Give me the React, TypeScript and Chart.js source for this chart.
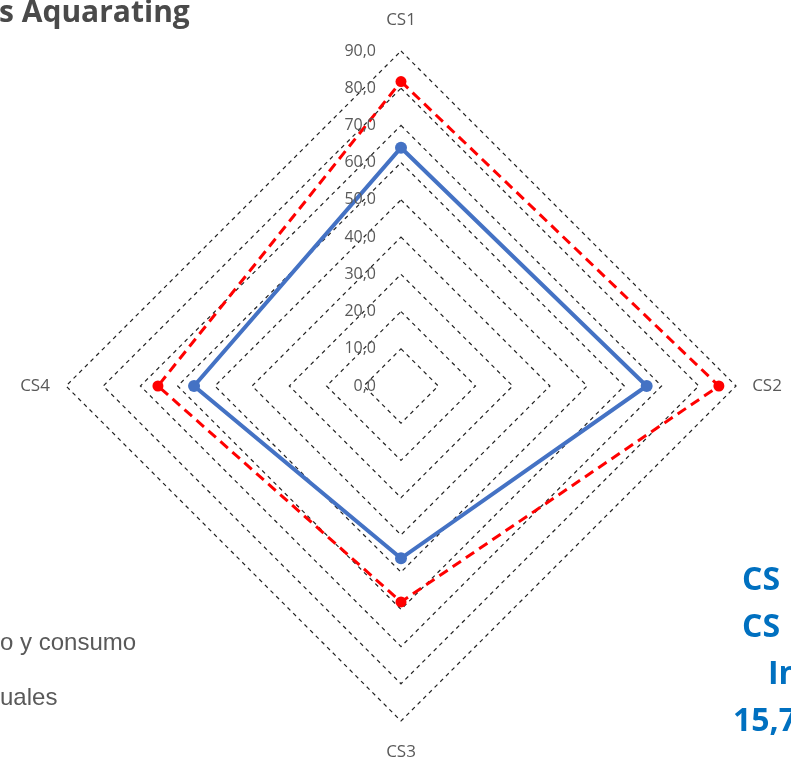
import React, { useEffect, useRef } from "react";
import { Chart, registerables } from "chart.js";

Chart.register(...registerables);

const categories = ["CS1", "CS2", "CS3", "CS4"];
const seriesBlue = [64, 66, 46.3, 55.6];
const seriesRed = [81.8, 85.4, 58, 65.3];
const tickValues = [0, 10, 20, 30, 40, 50, 60, 70, 80, 90];
const tickLabels = ["0,0", "10,0", "20,0", "30,0", "40,0", "50,0", "60,0", "70,0", "80,0", "90,0"];
const legendFragments = ["o y consumo", "uales"];
const sideFragments = ["CS", "CS", "In", "15,7"];

const labelPlugin = {
  id: "customLabels",
  afterDatasetsDraw(chart: any) {
    const scale = chart.scales.r;
    const ctx = chart.ctx;
    ctx.save();
    // tick labels, right-aligned left of the vertical axis
    ctx.font = "16px 'Open Sans', sans-serif";
    ctx.fillStyle = "#595959";
    ctx.textAlign = "right";
    ctx.textBaseline = "middle";
    tickValues.forEach((v, i) => {
      const d = scale.getDistanceFromCenterForValue(v);
      ctx.fillText(tickLabels[i], scale.xCenter - 25, scale.yCenter - d);
    });
    // point labels
    ctx.font = "17px 'Open Sans', sans-serif";
    ctx.textAlign = "center";
    categories.forEach((c, i) => {
      const p = scale.getPointPosition(i, scale.getDistanceFromCenterForValue(90) + 31);
      ctx.fillText(c, p.x, p.y);
    });
    ctx.restore();
  },
};

export default function App() {
  const ref = useRef<HTMLCanvasElement | null>(null);
  useEffect(() => {
    if (!ref.current) return;
    const chart = new Chart(ref.current, {
      type: "radar",
      data: {
        labels: categories,
        datasets: [
          {
            label: "Serie 1",
            data: seriesBlue,
            borderColor: "#4472C4",
            backgroundColor: "#4472C4",
            borderWidth: 4,
            pointRadius: 6,
            pointBackgroundColor: "#4472C4",
            pointBorderWidth: 0,
            fill: false,
          },
          {
            label: "Serie 2",
            data: seriesRed,
            borderColor: "#FF0000",
            backgroundColor: "#FF0000",
            borderWidth: 3,
            borderDash: [10, 6],
            pointRadius: 5.5,
            pointBackgroundColor: "#FF0000",
            pointBorderWidth: 0,
            fill: false,
          },
        ],
      },
      options: {
        responsive: false,
        animation: false,
        devicePixelRatio: 1,
        layout: { padding: { left: 66, right: 55, top: 51, bottom: 41 } },
        plugins: { legend: { display: false }, tooltip: { enabled: false } },
        scales: {
          r: {
            min: 0,
            max: 90,
            ticks: { display: false, stepSize: 10 },
            pointLabels: { display: false },
            angleLines: { display: false },
            grid: { color: "#222", lineWidth: 1.2 },
            border: { dash: [4, 4] },
          },
        },
      },
      plugins: [labelPlugin],
    } as any);
    return () => chart.destroy();
  }, []);

  return (
    <div
      style={{
        position: "fixed",
        left: 0,
        top: 0,
        width: 791,
        height: 762,
        overflow: "hidden",
        background: "#fff",
      }}
    >
      <canvas ref={ref} width={791} height={762} style={{ position: "absolute", left: 0, top: 0 }} />
      <div
        style={{
          position: "absolute",
          left: -1,
          top: -10,
          font: "700 30px 'Open Sans', sans-serif",
          color: "#4a4a4a",
          whiteSpace: "nowrap",
        }}
      >
        s Aquarating
      </div>
      {legendFragments.map((t, i) => (
        <div
          key={i}
          style={{
            position: "absolute",
            left: 0,
            top: 627 + i * 55,
            font: "24px 'Liberation Sans', Arial, sans-serif",
            lineHeight: "30px",
            color: "#595959",
            whiteSpace: "nowrap",
          }}
        >
          {t}
        </div>
      ))}
      {sideFragments.map((t, i) => (
        <div
          key={"s" + i}
          style={{
            position: "absolute",
            left: [742, 742, 768, 733][i],
            top: 556 + i * 47,
            font: "700 32px 'Open Sans', sans-serif",
            color: "#0070C0",
            whiteSpace: "nowrap",
          }}
        >
          {t}
        </div>
      ))}
    </div>
  );
}
